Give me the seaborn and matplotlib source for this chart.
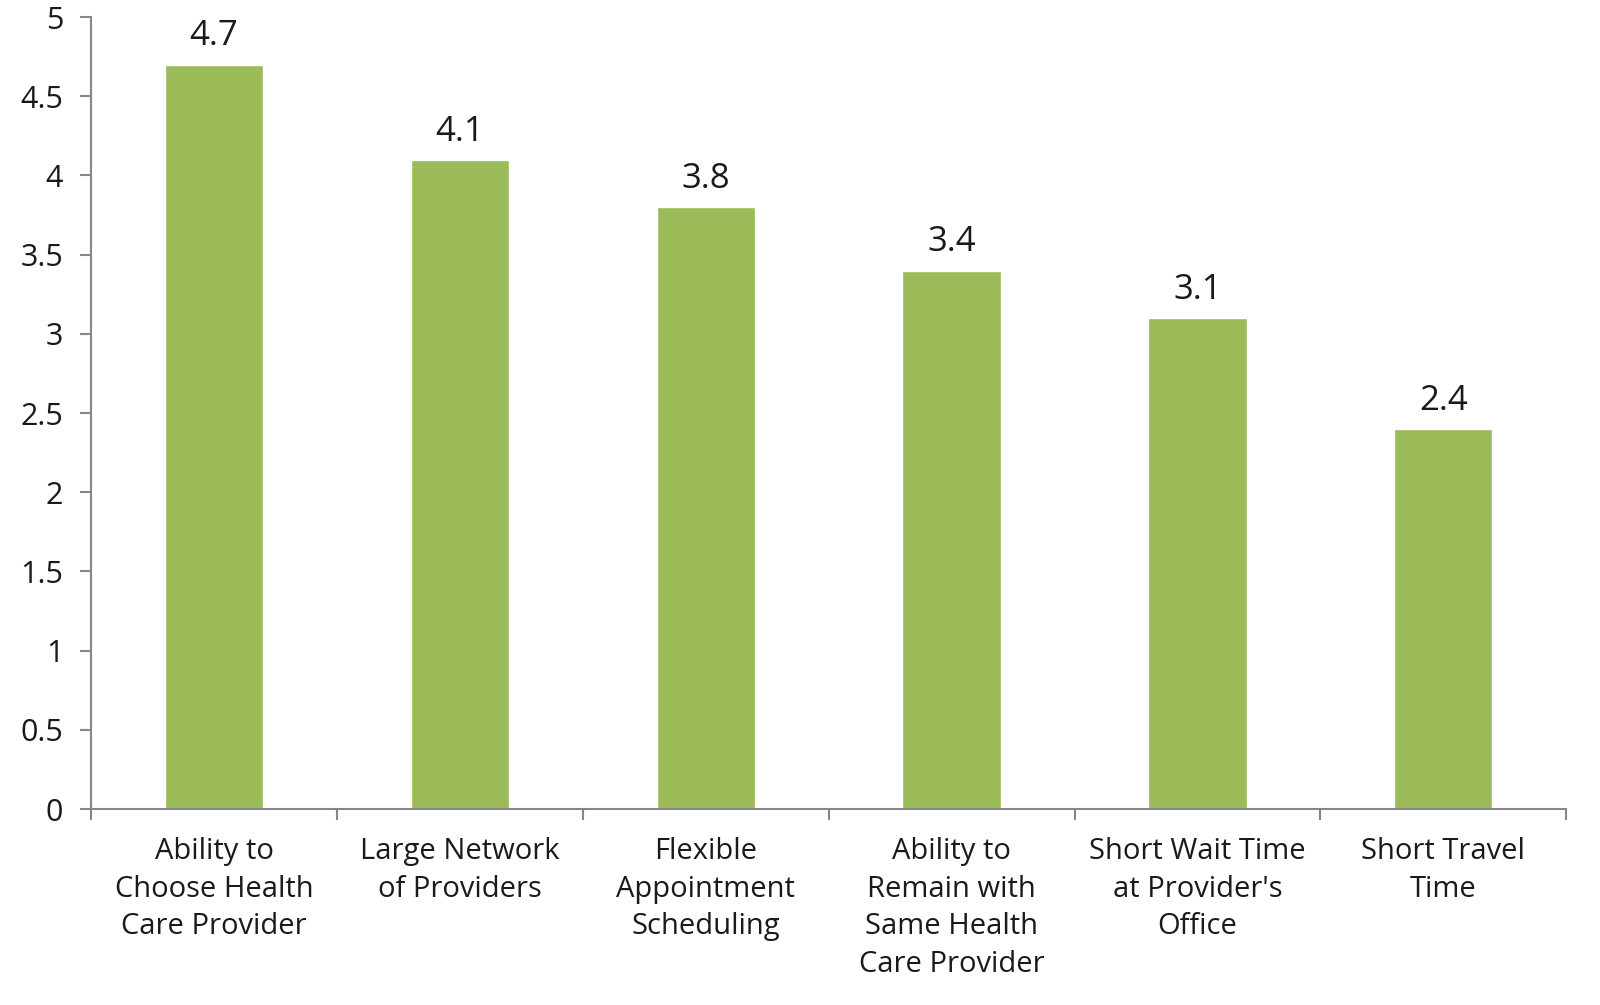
import matplotlib
matplotlib.use("Agg")
import matplotlib.pyplot as plt
import seaborn as sns
import pandas as pd
from matplotlib.ticker import FixedLocator

categories = [
    "Ability to\nChoose Health\nCare Provider",
    "Large Network\nof Providers",
    "Flexible\nAppointment\nScheduling",
    "Ability to\nRemain with\nSame Health\nCare Provider",
    "Short Wait Time\nat Provider's\nOffice",
    "Short Travel\nTime",
]
values = [4.7, 4.1, 3.8, 3.4, 3.1, 2.4]
y_ticks = [0, 0.5, 1, 1.5, 2, 2.5, 3, 3.5, 4, 4.5, 5]
y_tick_labels = ["0", "0.5", "1", "1.5", "2", "2.5", "3", "3.5", "4", "4.5", "5"]

sns.set_theme(style="white")
plt.rcParams['font.family'] = ['Open Sans', 'DejaVu Sans']

df = pd.DataFrame({"category": categories, "value": values})

fig = plt.figure(figsize=(16, 10.05), dpi=100)
ax = fig.add_axes([0.0569, 0.195, 0.922, 0.788])

sns.barplot(data=df, x="category", y="value", color="#9BBB59", width=0.40,
            saturation=1, ax=ax)

ax.set_ylim(0, 5)
ax.set_xlim(-0.5, len(categories) - 0.5)
ax.set_yticks(y_ticks)
ax.set_yticklabels(y_tick_labels, fontsize=22, color="#1a1a1a")
ax.set_xlabel("")
ax.set_ylabel("")

ax.tick_params(axis="y", length=8, width=1.5, color="#868686", pad=12, left=True)
ax.tick_params(axis="x", which="major", length=0, pad=20, labelsize=21, colors="#1a1a1a", bottom=True)
ax.xaxis.set_minor_locator(FixedLocator([i - 0.5 for i in range(len(categories) + 1)]))
ax.tick_params(axis="x", which="minor", length=8, width=1.5, color="#868686", bottom=True)
for lab in ax.get_xticklabels():
    lab.set_linespacing(1.4)
    lab.set_verticalalignment("top")

for side in ["top", "right"]:
    ax.spines[side].set_visible(False)
for side in ["left", "bottom"]:
    ax.spines[side].set_color("#868686")
    ax.spines[side].set_linewidth(1.5)

for i, v in enumerate(values):
    ax.annotate(f"{v}", xy=(i, v), xytext=(0, 8), textcoords="offset points",
                ha="center", va="bottom", fontsize=25, color="#1a1a1a")

fig.savefig("out.png", dpi=100, facecolor="white")
